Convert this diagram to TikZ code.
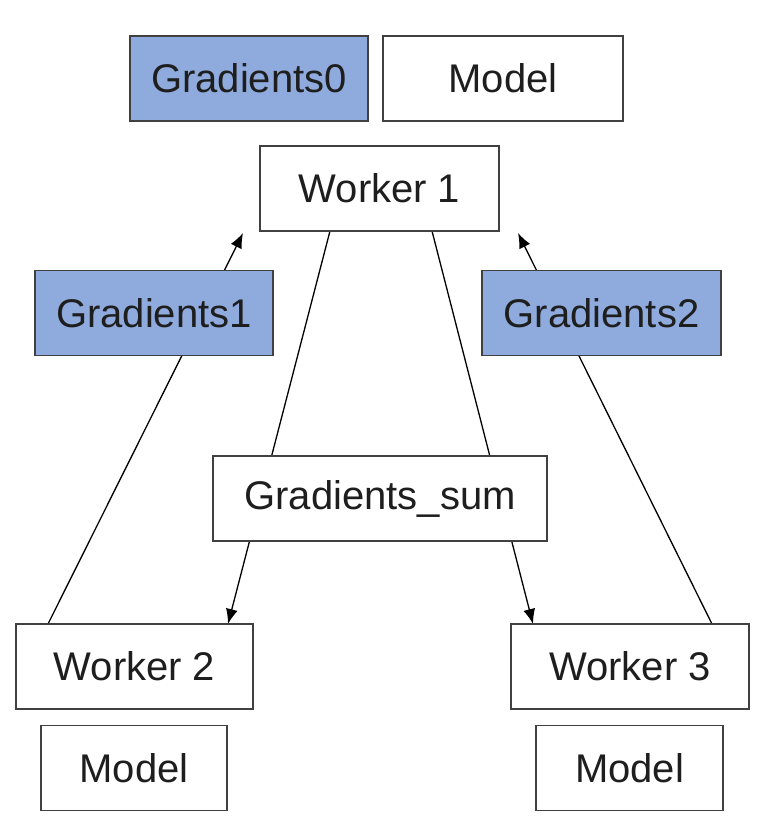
\documentclass[tikz,border=0pt]{standalone}
\usepackage{fontspec}
\setmainfont{Liberation Sans}
\usetikzlibrary{arrows.meta,backgrounds}
\definecolor{gblue}{HTML}{8FAADC}
\definecolor{edge}{HTML}{404040}
\definecolor{txt}{HTML}{1E1E1E}
\begin{document}
\begin{tikzpicture}[x=1pt,y=-1pt,
  box/.style={draw=edge,line width=1.6pt,fill=white,rectangle,inner sep=0pt,outer sep=0pt,
    minimum height=85pt,text=txt,font=\fontsize{40}{48}\selectfont},
  bluebox/.style={box,fill=gblue},
  conn/.style={draw=black,line width=1.3pt},
  arr/.style={conn,-{Latex[length=15pt,width=12pt]}}]
\useasboundingbox (0,0) rectangle (770,835);
\node[bluebox,minimum width=238pt] (g0) at (249,78.5) {Gradients0};
\node[box,minimum width=240pt] (m0) at (503,78.5) {Model};
\node[box,minimum width=239pt] (w1) at (379.5,188.5) {Worker 1};
\node[bluebox,minimum width=238pt] (g1) at (154,313) {Gradients1};
\node[bluebox,minimum width=239pt] (g2) at (601.5,313) {Gradients2};
\node[box,minimum width=334pt] (gs) at (380,498.5) {Gradients\_sum};
\node[box,minimum width=237pt] (w2) at (134.5,666.5) {Worker 2};
\node[box,minimum width=238pt] (w3) at (630,666.5) {Worker 3};
\node[box,minimum width=186pt] (m2) at (134,768) {Model};
\node[box,minimum width=187pt] (m3) at (629.5,768) {Model};
\coordinate (t1) at (243,233);
\coordinate (t2) at (518,233);
\begin{scope}[on background layer]
\fill[white] (0,0) rectangle (770,835);
\draw[arr] ([xshift=32pt]w2.north west) -- (t1);
\draw[arr] ([xshift=-37pt]w3.north east) -- (t2);
\draw[arr] ([xshift=70pt]w1.south west) -- ([xshift=-25pt]w2.north east);
\draw[arr] ([xshift=-67pt]w1.south east) -- ([xshift=22pt]w3.north west);
\end{scope}
\end{tikzpicture}
\end{document}
